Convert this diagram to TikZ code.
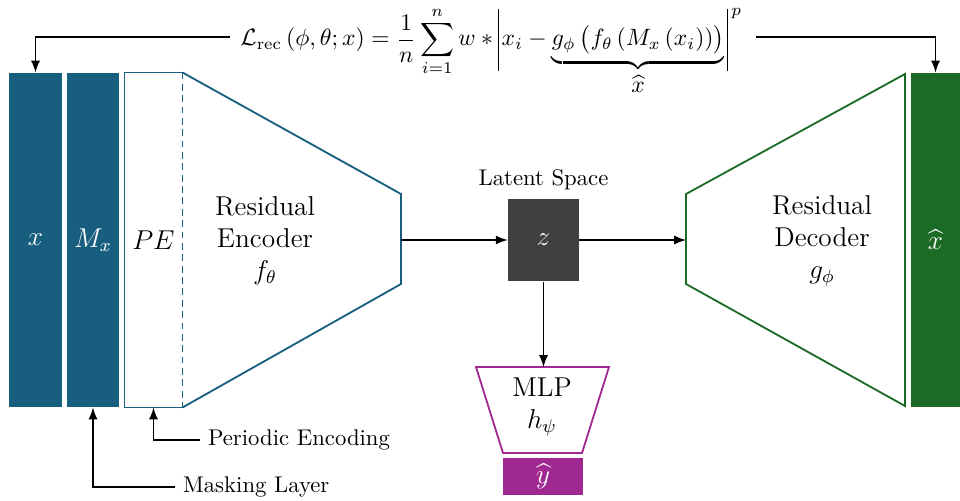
\documentclass[tikz,border=0pt]{standalone}
\usepackage{amsmath}
\usepackage{graphicx}
\usetikzlibrary{positioning}
\definecolor{encblue}{RGB}{23,94,127}
\definecolor{decgreen}{RGB}{27,107,38}
\definecolor{mlppurple}{RGB}{160,41,145}
\definecolor{latentgray}{RGB}{64,64,64}
\newcommand{\lossbar}{\rule[-10.5pt]{0.4pt}{26pt}}
\tikzset{
  block/.style={minimum height=147pt, inner sep=0pt, font=\large, text=white},
  conn/.style={-latex, thick},
  lbl/.style={font=\large, align=center},
}
\begin{document}
\begin{tikzpicture}[x=0.44pt,y=0.44pt]
\useasboundingbox (0,0) rectangle (960,500);
% input, mask and periodic encoding
\node[block, fill=encblue, minimum width=23.3pt] (xin) at (35.5,260) {$x$};
\node[block, fill=encblue, minimum width=22.9pt] (mask) at (93,260) {$M_x$};
\node[block, minimum width=25.1pt, text=black] (pe) at (153.5,260) {$PE$};
\draw[encblue, thick] (pe.north east) -- (pe.north west) -- (pe.south west) -- (pe.south east);
\draw[encblue, thick, dash pattern=on 3pt off 2pt] (pe.north east) -- (pe.south east);
% encoder
\draw[encblue, thick] (pe.north east) -- (401,306) -- (401,216) -- (pe.south east);
\coordinate (encout) at (401,260);
\node[lbl] (enc) at (265,259) {Residual\\Encoder\\$f_\theta$};
% latent
\node[block, fill=latentgray, minimum width=31.2pt, minimum height=36.5pt] (z) at (543.5,260) {$z$};
\node[above=0pt of z] (latent) {Latent Space};
\draw[conn] (encout) -- (z.west);
% decoder
\draw[decgreen, thick] (686,306) -- (905,426) -- (905,94) -- (686,216) -- cycle;
\coordinate (decin) at (686,260);
\node[lbl] (dec) at (822,259) {Residual\\Decoder\\$g_\phi$};
\draw[conn] (z.east) -- (decin);
\node[block, fill=decgreen, minimum width=21.6pt] (xhat) at (935.5,260) {$\widehat{x}$};
% mlp head
\draw[mlppurple, thick] (476,133) -- (609,133) -- (582,47) -- (503,47) -- cycle;
\coordinate (mlpin) at (543.5,133);
\node[lbl] (mlp) at (542,93) {MLP\\$h_\psi$};
\draw[conn] (z.south) -- (mlpin);
\node[block, fill=mlppurple, minimum width=35.2pt, minimum height=16.3pt] (yhat) at (543,23.5) {$\widehat{y}$};
% loss
\node[anchor=base west, inner sep=0pt] (loss) at (240,454)
  {\scalebox{1.04}{$\displaystyle\mathcal{L}_{\mathrm{rec}}\left(\phi,\theta;x\right)=\frac{1}{n}\sum_{i=1}^{n} w * \mathopen{\lossbar}\mskip2mu x_i-\underbrace{g_\phi\left(\vphantom{\bigl(}f_\theta\left(M_x\left(x_i\right)\right)\right)}_{\textstyle\widehat{x}}\mskip2mu\mathclose{\lossbar}^{\,p}$}};
\coordinate (lossaxis) at (0,463);
\draw[conn] ([xshift=-4.4pt]loss.west |- lossaxis) -| (xin.north);
\draw[conn] ([xshift=6pt]loss.east |- lossaxis) -| (xhat.north);
% side labels
\node[anchor=west] (pelabel) at (200,60) {Periodic Encoding};
\draw[conn] (pelabel.west) -| (pe.south);
\node[anchor=west] (masklabel) at (175,13) {Masking Layer};
\draw[conn] (masklabel.west) -| (mask.south);
\end{tikzpicture}
\end{document}
